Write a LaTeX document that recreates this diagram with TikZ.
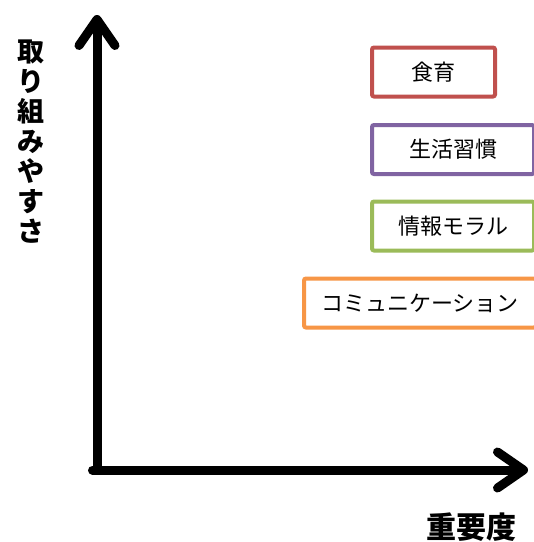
\documentclass[tikz,border=0pt]{standalone}
\usepackage{fontspec}
\newfontfamily\cjk{Noto Sans CJK JP}
\usetikzlibrary{arrows.meta}
\definecolor{cred}{HTML}{C0504D}
\definecolor{cpurple}{HTML}{8064A2}
\definecolor{cgreen}{HTML}{9BBB59}
\definecolor{corange}{HTML}{F79646}
\tikzset{
  itembox/.style={draw=#1, line width=4pt, rounded corners=2pt, fill=white,
    minimum height=49pt, inner sep=0pt, font=\cjk\fontsize{22}{26}\selectfont},
  axisline/.style={line width=9pt, line cap=round, line join=round,
    -{Straight Barb[length=26pt,width=36pt,line width=9pt,line cap=round,line join=round]}},
  axislabel/.style={font=\cjk\bfseries\fontsize{27}{30}\selectfont, inner sep=0pt}
}
\begin{document}
\begin{tikzpicture}[x=1pt,y=-1pt]
\useasboundingbox (0,0) rectangle (534,542);
\fill[white] (0,0) rectangle (534,542);
\coordinate (origin) at (97,470);
\coordinate (ytip) at (97,15);
\coordinate (xtip) at (528,470);
\draw[axisline] (origin) -- (ytip);
\draw[axisline] ([xshift=-4.5pt]origin) -- (xtip);
\begin{scope}
\clip (0,0) rectangle (534,542);
\node[itembox=cred, minimum width=123pt] (food) at (433.5,72) {食育};
\node[itembox=cpurple, minimum width=162pt] (life) at (453,149.5) {生活習慣};
\node[itembox=cgreen, minimum width=162pt] (info) at (453,226) {情報モラル};
\node[itembox=corange, minimum width=232pt] (comm) at (420,303) {コミュニケーション};
\end{scope}
\node[axislabel, align=center] (ylab) at (31,142) {取\\り\\組\\み\\や\\す\\さ};
\node[axislabel, font=\cjk\bfseries\fontsize{30}{32}\selectfont] (xlab) at (471,527) {重要度};
\end{tikzpicture}
\end{document}
